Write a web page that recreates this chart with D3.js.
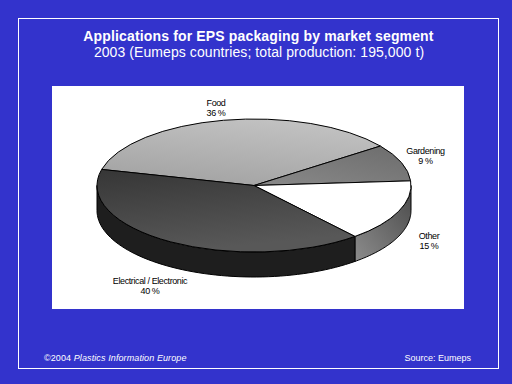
<!DOCTYPE html>
<html lang="en">
<head>
    <meta charset="UTF-8">
    <script src="https://cdn.jsdelivr.net/npm/d3@7"></script>
    <title>Applications for EPS packaging</title>
    <style>
        html, body { margin: 0; padding: 0; background: #3333cc; }
        svg { display: block; }
        text { font-family: "Liberation Sans", Arial, sans-serif; }
    </style>
</head>
<body>
    <div id="chart"></div>
    <script>
        const segments = ["Food", "Gardening", "Other", "Electrical / Electronic"];
        const shares = [36, 9, 15, 40];
        const shareLabels = ["36 %", "9 %", "15 %", "40 %"];

        const width = 512, height = 384;
        const cx = 254, cy = 185.5, rx = 157, ry = 66.5, depth = 25;
        const startDeg = -76;

        const svg = d3.select("#chart").append("svg")
            .attr("width", width)
            .attr("height", height);

        const defs = svg.append("defs");
        const addGrad = (id, x1, y1, x2, y2, c1, c2) => {
            const g = defs.append("linearGradient").attr("id", id)
                .attr("gradientUnits", "objectBoundingBox")
                .attr("x1", x1).attr("y1", y1).attr("x2", x2).attr("y2", y2);
            g.append("stop").attr("offset", 0).attr("stop-color", c1);
            g.append("stop").attr("offset", 1).attr("stop-color", c2);
        };
        addGrad("gFood", 1, 0, 0.6, 1, "#c6c6c6", "#a6a6a6");
        addGrad("gGarden", 0, 1, 1, 0, "#8a8a8a", "#6c6c6c");
        addGrad("gElec", 0, 0, 0.3, 1, "#363636", "#585858");
        addGrad("gOtherSide", 1, 0, 0, 1, "#4a4a4a", "#8c8c8c");

        const topFills = ["url(#gFood)", "url(#gGarden)", "#ffffff", "url(#gElec)"];
        const sideFills = ["#888888", "#555555", "url(#gOtherSide)", "#1e1e1e"];

        // thin white frame round the slide
        svg.append("rect")
            .attr("x", 18.5).attr("y", 18.5)
            .attr("width", 480).attr("height", 350)
            .attr("fill", "none")
            .attr("stroke", "#ffffff");

        svg.append("rect")
            .attr("x", 52).attr("y", 86)
            .attr("width", 412).attr("height", 223)
            .attr("fill", "#ffffff");

        const pie = d3.pie().sort(null)
            .startAngle(startDeg * Math.PI / 180)
            .endAngle((startDeg + 360) * Math.PI / 180);
        const arcs = pie(shares);

        // pie angle runs clockwise from 12 o'clock, the front wall is between 90 and 270 deg
        const px = a => cx + rx * Math.sin(a);
        const py = a => cy - ry * Math.cos(a);
        const line = d3.line().curve(d3.curveLinear);

        const wallPath = (a0, a1) => {
            const from = Math.max(a0, Math.PI / 2), to = Math.min(a1, 3 * Math.PI / 2);
            if (from >= to) return null;
            const steps = d3.range(0, 61).map(i => from + (to - from) * i / 60);
            const upper = steps.map(t => [px(t), py(t)]);
            const lower = steps.slice().reverse().map(t => [px(t), py(t) + depth]);
            return line(upper.concat(lower)) + "Z";
        };

        svg.append("g").selectAll("path")
            .data(arcs)
            .enter().append("path")
            .attr("d", d => wallPath(d.startAngle, d.endAngle))
            .attr("fill", (d, i) => sideFills[i])
            .attr("stroke", "#000")
            .attr("stroke-width", 1);

        const arcGen = d3.arc().innerRadius(0).outerRadius(rx);
        svg.append("g")
            .attr("transform", `translate(${cx},${cy}) scale(1,${ry / rx})`)
            .selectAll("path")
            .data(arcs)
            .enter().append("path")
            .attr("d", arcGen)
            .attr("fill", (d, i) => topFills[i])
            .attr("stroke", "#000")
            .attr("stroke-width", 1)
            .attr("vector-effect", "non-scaling-stroke");

        const labelPos = [[216, 106], [425.5, 154], [429, 239], [150, 284]];
        const labels = svg.append("g").selectAll("text")
            .data(segments)
            .enter().append("text")
            .attr("text-anchor", "middle")
            .attr("font-size", 9)
            .attr("letter-spacing", -0.4)
            .attr("fill", "#000");
        labels.append("tspan")
            .attr("x", (d, i) => labelPos[i][0])
            .attr("y", (d, i) => labelPos[i][1])
            .text(d => d);
        labels.append("tspan")
            .attr("x", (d, i) => labelPos[i][0])
            .attr("y", (d, i) => labelPos[i][1] + 10)
            .text((d, i) => shareLabels[i]);

        svg.append("text")
            .attr("x", 258.5).attr("y", 41)
            .attr("text-anchor", "middle")
            .attr("font-size", 14).attr("font-weight", "bold")
            .attr("letter-spacing", 0.15)
            .attr("fill", "#fff")
            .text("Applications for EPS packaging by market segment");
        svg.append("text")
            .attr("x", 259).attr("y", 57)
            .attr("text-anchor", "middle")
            .attr("font-size", 14)
            .attr("letter-spacing", 0.08)
            .attr("fill", "#fff")
            .text("2003 (Eumeps countries; total production: 195,000 t)");

        const foot = svg.append("text")
            .attr("x", 44).attr("y", 361)
            .attr("font-size", 9)
            .attr("letter-spacing", 0.1)
            .attr("fill", "#fff");
        foot.append("tspan").text("©2004 ");
        foot.append("tspan").attr("font-style", "italic").text("Plastics Information Europe");
        svg.append("text")
            .attr("x", 471).attr("y", 361)
            .attr("text-anchor", "end")
            .attr("font-size", 9)
            .attr("fill", "#fff")
            .text("Source: Eumeps");
    </script>
</body>
</html>
